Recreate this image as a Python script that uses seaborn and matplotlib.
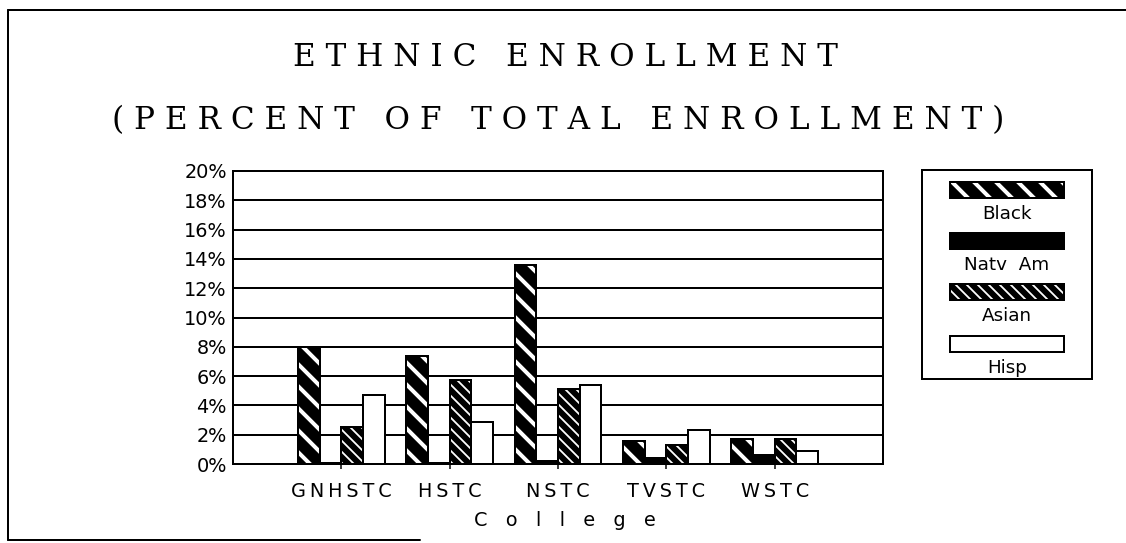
import matplotlib
matplotlib.use("Agg")
import matplotlib.pyplot as plt
import matplotlib.colors as mcolors
from matplotlib.patches import Rectangle
from matplotlib.lines import Line2D
import pandas as pd
import seaborn as sns

# Enrollment share by ethnic group (percent of total enrollment)
colleges = ["GNHSTC", "HSTC", "NSTC", "TVSTC", "WSTC"]
groups = ["Black", "Natv  Am", "Asian", "Hisp"]
black = [8.0, 7.4, 13.6, 1.6, 1.7]
natv_am = [0.1, 0.1, 0.2, 0.4, 0.6]
asian = [2.5, 5.7, 5.1, 1.3, 1.7]
hisp = [4.7, 2.9, 5.4, 2.3, 0.9]
yticks = [0, 2, 4, 6, 8, 10, 12, 14, 16, 18, 20]
ytick_labels = [f"{v}%" for v in yticks]

W, H, DPI = 1126, 543, 132
THIN = "\u2009"


def pt(px):
    return px * 72.0 / DPI


def spaced(s, sep=THIN):
    return sep.join(s)


sns.set_theme(style="white")
plt.rcParams["font.family"] = ["DejaVu Sans"]
plt.rcParams["hatch.linewidth"] = pt(4)

df = pd.DataFrame({
    "College": colleges * 4,
    "Group": [g for g in groups for _ in colleges],
    "Percent": black + natv_am + asian + hisp,
})

fig = plt.figure(figsize=(W / DPI, H / DPI), dpi=DPI)
fig.patch.set_facecolor("white")

ax = fig.add_axes([233 / W, 1 - 464 / H, 650 / W, 293 / H])
sns.barplot(data=df, x="College", y="Percent", hue="Group", hue_order=groups,
            order=colleges, palette=["black", "black", "black", "white"],
            saturation=1, width=0.8, dodge=True, legend=False, errorbar=None,
            ax=ax, zorder=3)

styles = {
    "Black": dict(face="black", hatch="\\\\", hlw=4),
    "Natv  Am": dict(face="black", hatch=None, hlw=None),
    "Asian": dict(face="black", hatch="\\\\\\\\", hlw=1.8),
    "Hisp": dict(face="white", hatch=None, hlw=None),
}


def style_patch(p, st):
    p.set_facecolor(st["face"])
    p.set_edgecolor("black")
    p.set_linewidth(pt(2))
    if st["hatch"]:
        p.set_hatch(st["hatch"])
        if hasattr(p, "set_hatch_linewidth"):
            p.set_hatch_linewidth(pt(st["hlw"]))
        p._hatch_color = mcolors.to_rgba("white")


for cont, g in zip(ax.containers, groups):
    for p in cont.patches:
        style_patch(p, styles[g])

ax.set_xlim(-1, 5)
ax.set_ylim(0, 20)
ax.set_yticks(yticks)
ax.set_yticklabels(ytick_labels)
ax.set_xticks(range(len(colleges)))
ax.set_xticklabels([spaced(c) for c in colleges])
ax.set_axisbelow(True)
ax.yaxis.grid(True, color="black", linewidth=pt(2))
ax.xaxis.grid(False)
for s in ax.spines.values():
    s.set_color("black")
    s.set_linewidth(pt(2))
ax.tick_params(axis="y", length=0, pad=pt(6), labelsize=10.5, colors="black")
ax.tick_params(axis="x", length=pt(5), width=pt(1.5), direction="out",
               bottom=True, pad=pt(13), labelsize=10.5, colors="black")
ax.set_xlabel("")
ax.set_ylabel("")

fig.text(565 / W, 1 - 521 / H, "C   o   l   l   e   g   e", ha="center",
         va="center", fontsize=10.5, color="black")

# Title in a serif face with generous letter spacing
title_font = dict(family=["DejaVu Serif"], fontsize=17,
                  color="black", ha="center", va="center")
fig.text(565 / W, 1 - 58 / H, "E T H N I C   E N R O L L M E N T", **title_font)
fig.text(558 / W, 1 - 121 / H,
         "( P E R C E N T   O F   T O T A L   E N R O L L M E N T )",
         **title_font)

# Legend panel: swatches with captions beneath
lax = fig.add_axes([922 / W, 1 - 379 / H, 170 / W, 209 / H])
lax.set_xlim(922, 1092)
lax.set_ylim(379, 170)
lax.set_xticks([])
lax.set_yticks([])
for s in lax.spines.values():
    s.set_color("black")
    s.set_linewidth(pt(2))
swatch_tops = [182, 233, 284, 336]
for g, top in zip(groups, swatch_tops):
    r = Rectangle((950, top), 114, 16)
    lax.add_patch(r)
    style_patch(r, styles[g])
    lax.text(1007, top + 32, g, ha="center", va="center", fontsize=10,
             color="black")

# Outer frame
frame = dict(color="black", linewidth=pt(2), transform=fig.transFigure)
fig.add_artist(Line2D([8 / W, 1.0], [1 - 10 / H, 1 - 10 / H], **frame))
fig.add_artist(Line2D([8 / W, 8 / W], [1 - 10 / H, 1 - 540 / H], **frame))
fig.add_artist(Line2D([8 / W, 420 / W], [1 - 540 / H, 1 - 540 / H], **frame))

fig.savefig("out.png", dpi=DPI, facecolor="white")
